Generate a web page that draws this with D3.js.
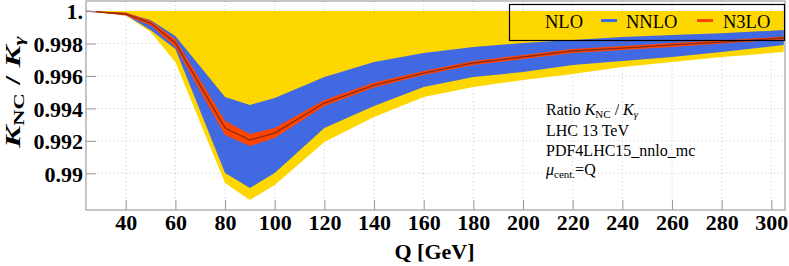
<!DOCTYPE html>
<meta charset="utf-8">
<head>
  <title>K_NC / K_gamma ratio</title>
</head>
<script src="https://d3js.org/d3.v7.min.js"></script>
<style>
  body { margin: 0; background: white; }
  text { font-family: "Liberation Serif", "Times New Roman", serif; }
</style>
<div id="chart"></div>
<script>

  // Q points (GeV) and band edges
  var q = [24, 40, 50, 60, 80, 90, 100, 120, 140, 160, 180, 200, 220, 240, 260, 280, 305];

  var nloUp = [1, 1, 1, 1, 1, 1, 1, 1, 1, 1, 1, 1, 1, 1, 1, 1, 1];
  var nloLo = [1, 0.99972, 0.99871, 0.99686, 0.98940, 0.98836, 0.98928, 0.99193, 0.99347,
               0.99470, 0.99532, 0.99575, 0.99612, 0.99655, 0.99686, 0.99717, 0.99747];

  var nnloUp = [1, 0.99988, 0.99945, 0.99846, 0.99470, 0.99421, 0.99464, 0.99593, 0.99686,
                0.99741, 0.99778, 0.99803, 0.99821, 0.99840, 0.99852, 0.99864, 0.99883];
  var nnloLo = [1, 0.99975, 0.99883, 0.99766, 0.99002, 0.98910, 0.99002, 0.99279, 0.99415,
                0.99532, 0.99593, 0.99624, 0.99667, 0.99692, 0.99717, 0.99747, 0.99791];

  var n3loUp = [1, 0.99991, 0.99941, 0.99827, 0.99322, 0.99242, 0.99279, 0.99452, 0.99560,
                0.99630, 0.99692, 0.99729, 0.99766, 0.99784, 0.99803, 0.99818, 0.99843];
  var n3loLo = [1, 0.99972, 0.99911, 0.99778, 0.99236, 0.99168, 0.99218, 0.99415, 0.99529,
                0.99606, 0.99667, 0.99704, 0.99741, 0.99760, 0.99778, 0.99800, 0.99824];
  var n3loC  = [1, 0.99982, 0.99926, 0.99803, 0.99279, 0.99205, 0.99248, 0.99433, 0.99544,
                0.99618, 0.99680, 0.99717, 0.99754, 0.99772, 0.99791, 0.99809, 0.99834];

  var xTicks = [40, 60, 80, 100, 120, 140, 160, 180, 200, 220, 240, 260, 280, 300];
  var yTicks = [0.99, 0.992, 0.994, 0.996, 0.998, 1];
  var yTickLabels = ["0.99", "0.992", "0.994", "0.996", "0.998", "1."];

  var legendNames = ["NLO", "NNLO", "N3LO"];
  var colors = ["#ffd700", "#4169e1", "#ff4500"];

  var W = 789, H = 266;
  var plot = {left: 86, right: 785, top: 1, bottom: 210};

  var svg = d3.select("#chart").append("svg")
    .attr("width", W)
    .attr("height", H);

  var x = d3.scaleLinear().domain([24, 305.5]).range([plot.left, plot.right]);
  var y = d3.scaleLinear().domain([0.98774, 1.00062]).range([plot.bottom, plot.top]);

  // grid
  var grid = svg.append("g");
  grid.selectAll(".gx").data(xTicks).enter().append("line")
    .attr("x1", function(d) { return x(d); }).attr("x2", function(d) { return x(d); })
    .attr("y1", plot.top).attr("y2", plot.bottom)
    .attr("stroke", "#c8c8c8").attr("stroke-dasharray", "1,3");
  grid.selectAll(".gy").data(yTicks).enter().append("line")
    .attr("x1", plot.left).attr("x2", plot.right)
    .attr("y1", function(d) { return y(d); }).attr("y2", function(d) { return y(d); })
    .attr("stroke", "#c8c8c8").attr("stroke-dasharray", "1,3");

  // bands
  function band(up, lo) {
    return d3.area()
      .x(function(d, i) { return x(q[i]); })
      .y0(function(d, i) { return y(lo[i]); })
      .y1(function(d, i) { return y(up[i]); })(q);
  }
  svg.append("path").attr("d", band(nloUp, nloLo)).attr("fill", colors[0]);
  svg.append("path").attr("d", band(nnloUp, nnloLo)).attr("fill", colors[1]);
  svg.append("path").attr("d", band(n3loUp, n3loLo)).attr("fill", colors[2]);

  var line = d3.line()
    .x(function(d, i) { return x(q[i]); })
    .y(function(d) { return y(d); });
  svg.append("path").attr("d", line(n3loC))
    .attr("fill", "none").attr("stroke", "#8a2a14").attr("stroke-width", 1.3);

  // axes (ROOT style: ticks inside the frame)
  var xAxis = svg.append("g")
    .attr("transform", "translate(0," + plot.bottom + ")")
    .call(d3.axisBottom(x).tickValues(xTicks).tickSize(-10).tickFormat(d3.format("d")));
  var yAxis = svg.append("g")
    .attr("transform", "translate(" + plot.left + ",0)")
    .call(d3.axisLeft(y).tickValues(yTicks).tickSize(-10)
      .tickFormat(function(d, i) { return yTickLabels[i]; }));

  [xAxis, yAxis].forEach(function(a) {
    a.select(".domain").remove();
    a.selectAll(".tick line").attr("stroke", "#999");
    a.selectAll(".tick text")
      .attr("fill", "black")
      .style("font-family", "'Liberation Serif', serif")
      .style("font-size", "22px")
      .style("font-weight", "bold");
  });
  xAxis.selectAll(".tick text").attr("y", 4).attr("dy", "0.72em");
  yAxis.selectAll(".tick text").attr("x", -3).attr("dy", "0.36em");

  // frame
  svg.append("rect")
    .attr("x", plot.left).attr("y", plot.top)
    .attr("width", plot.right - plot.left).attr("height", plot.bottom - plot.top)
    .attr("fill", "none").attr("stroke", "#a0a0a0").attr("stroke-width", 1.2);

  // axis titles
  svg.append("text")
    .attr("x", (plot.left + plot.right) / 2 - 1)
    .attr("y", 259)
    .attr("text-anchor", "middle")
    .style("font-size", "22px").style("font-weight", "bold")
    .text("Q [GeV]");

  // the y title in the picture is drawn stretched along its length
  var yt = svg.append("text")
    .attr("transform", "translate(20,92) rotate(-90) scale(1.5,1)")
    .attr("text-anchor", "middle")
    .style("font-size", "22px").style("font-weight", "bold");
  yt.append("tspan").style("font-style", "italic").text("K");
  yt.append("tspan").attr("dy", 4).style("font-size", "15px").text("NC");
  yt.append("tspan").attr("dy", -4).text(" / ");
  yt.append("tspan").style("font-style", "italic").text("K");
  yt.append("tspan").attr("dy", 4).style("font-size", "15px").style("font-style", "italic").text("γ");

  // legend
  var leg = svg.append("g");
  leg.append("rect")
    .attr("x", 509.5).attr("y", 4.5).attr("width", 275).attr("height", 36)
    .attr("fill", "none").attr("stroke", "black").attr("stroke-width", 1.2);
  var legX = [520, 601, 697];
  var legTextX = [545, 626, 723];
  legendNames.forEach(function(name, i) {
    leg.append("line")
      .attr("x1", legX[i]).attr("x2", legX[i] + 16)
      .attr("y1", 20.5).attr("y2", 20.5)
      .attr("stroke", colors[i]).attr("stroke-width", 3);
    leg.append("text")
      .attr("x", legTextX[i]).attr("y", 27.5)
      .style("font-size", "18.5px")
      .text(name);
  });

  // annotation
  var ann = svg.append("g").style("font-size", "16px");
  var t1 = ann.append("text").attr("x", 546).attr("y", 115);
  t1.append("tspan").text("Ratio ");
  t1.append("tspan").style("font-style", "italic").text("K");
  t1.append("tspan").attr("dy", 3).style("font-size", "11px").text("NC");
  t1.append("tspan").attr("dy", -3).text(" / ");
  t1.append("tspan").style("font-style", "italic").text("K");
  t1.append("tspan").attr("dy", 3).style("font-size", "11px").style("font-style", "italic").text("γ");
  ann.append("text").attr("x", 546).attr("y", 135.5).text("LHC 13 TeV");
  ann.append("text").attr("x", 546).attr("y", 155.5).text("PDF4LHC15_nnlo_mc");
  var t4 = ann.append("text").attr("x", 546).attr("y", 175);
  t4.append("tspan").style("font-style", "italic").text("μ");
  t4.append("tspan").attr("dy", 3).style("font-size", "11px").text("cent.");
  t4.append("tspan").attr("dy", -3).text("=Q");

</script>
